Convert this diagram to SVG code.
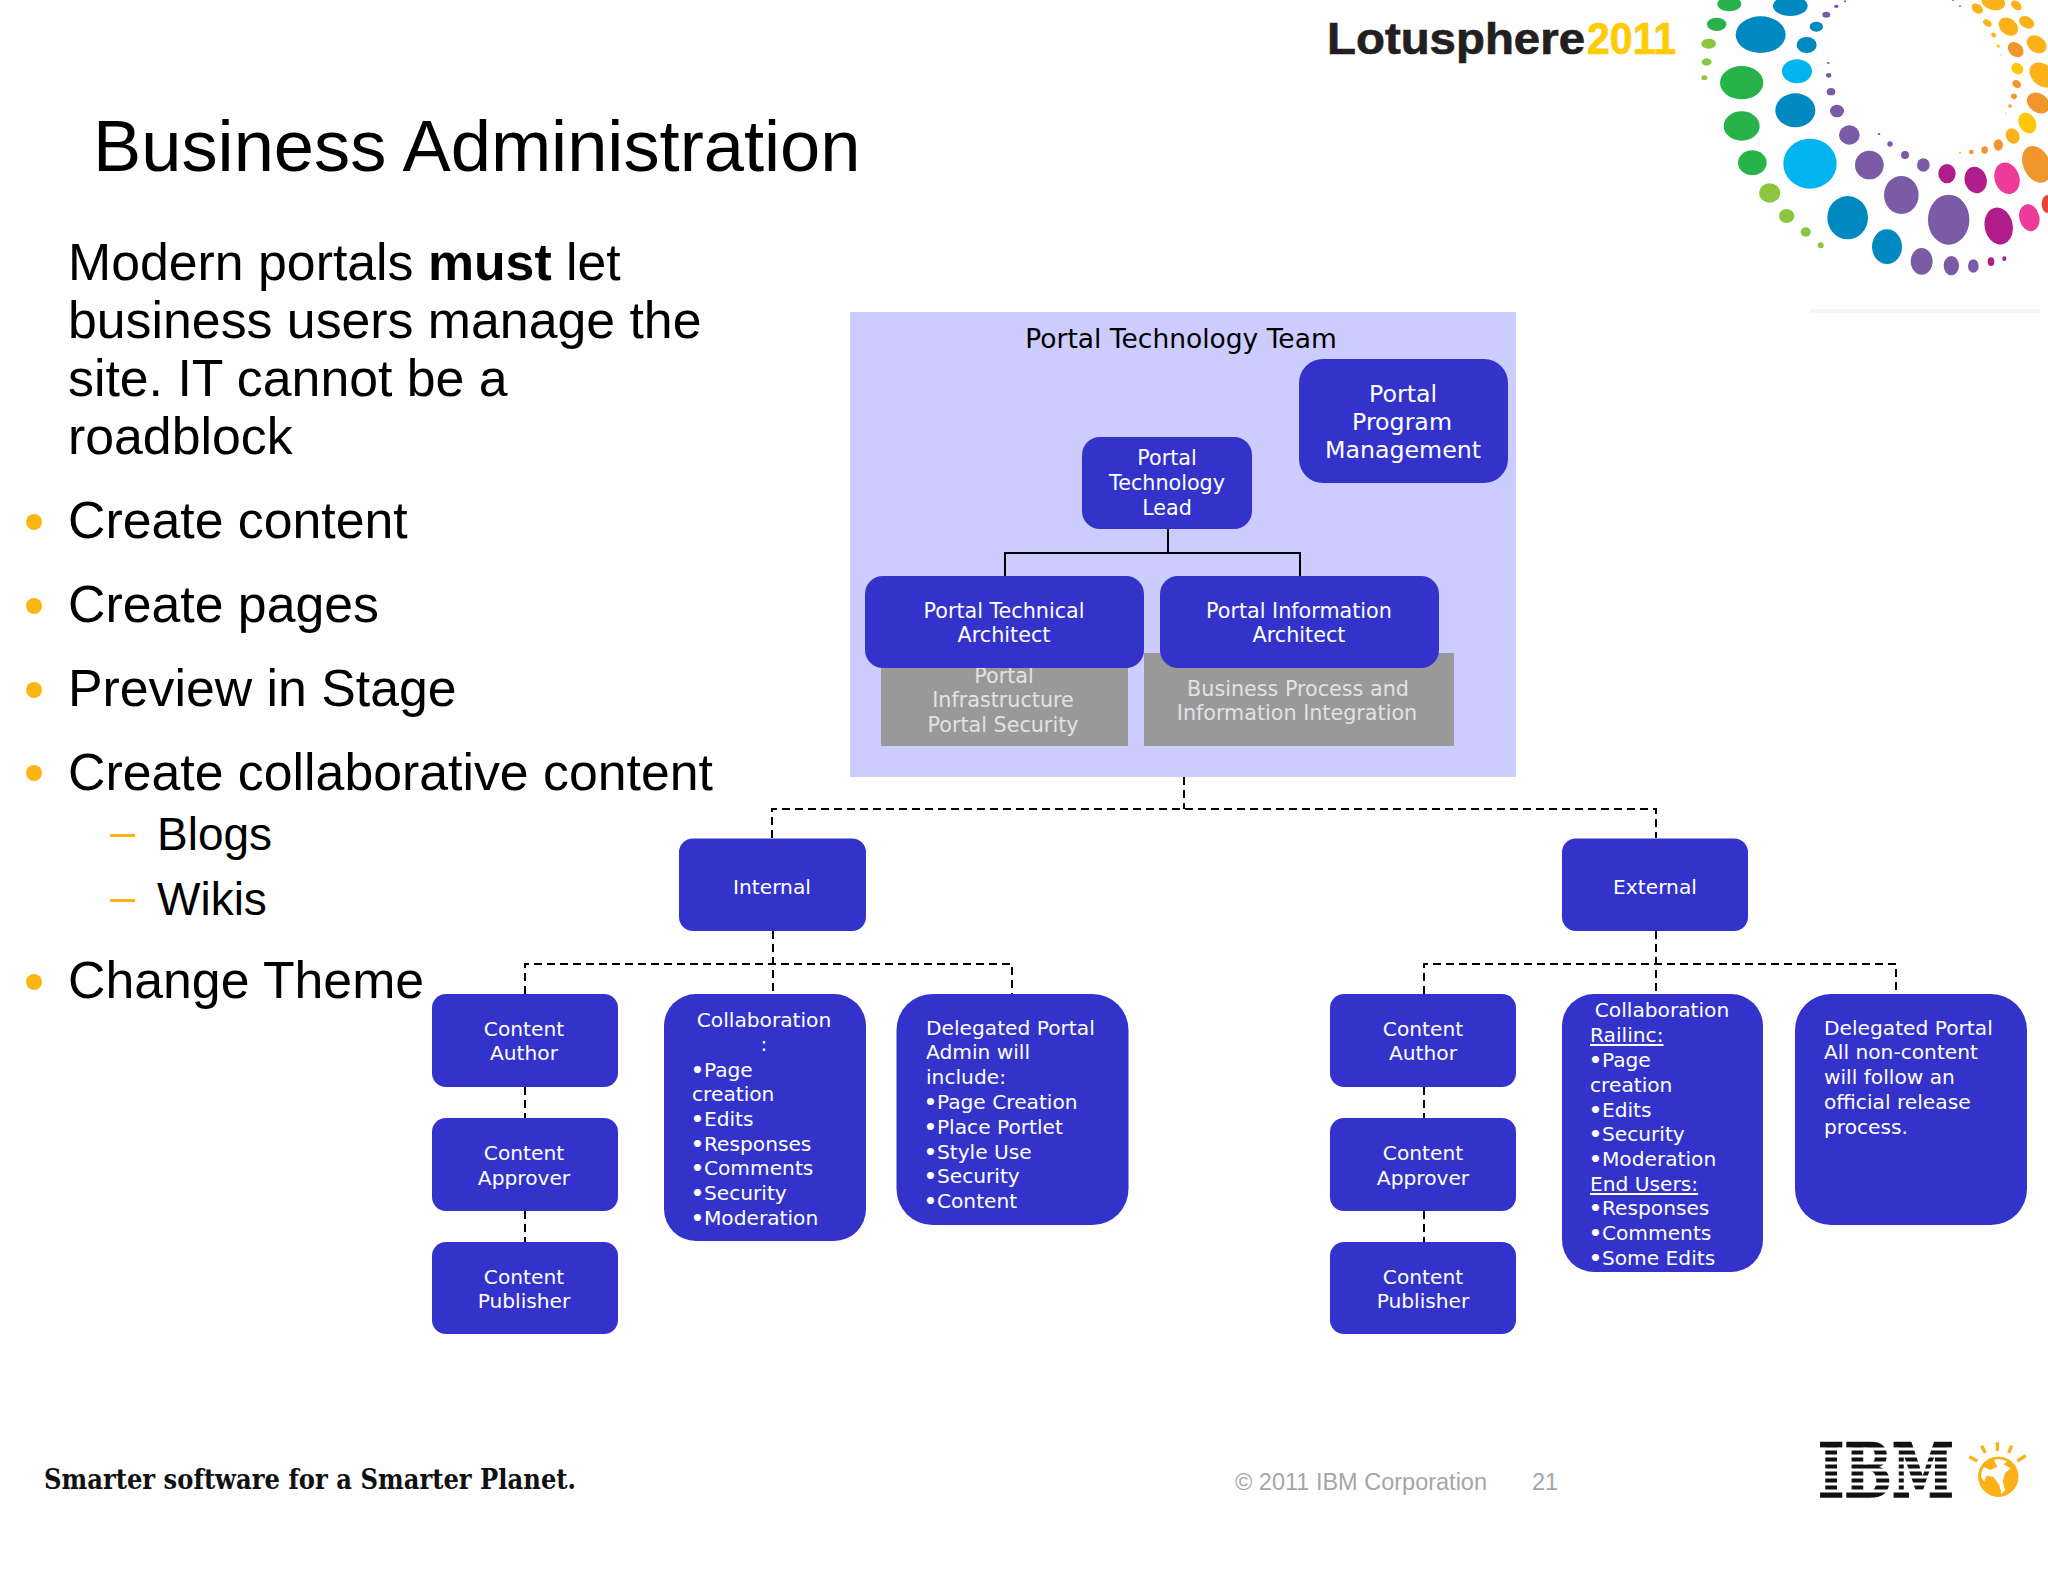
<svg xmlns="http://www.w3.org/2000/svg" width="2048" height="1582" viewBox="0 0 2048 1582">
<style>
text{font-family:"Liberation Sans",Arial,sans-serif}
.h{font-size:51.8px;fill:#000}
.s{font-size:46px;fill:#000}
.d text,text.d{font-family:"DejaVu Sans",Verdana,sans-serif;font-size:20.2px;fill:#fff}
.u text{font-size:20.7px}
.c{text-anchor:middle}
.b{font-weight:bold}
.box{fill:#3333cc}
.g text{font-family:"DejaVu Sans",Verdana,sans-serif;font-size:20.7px;fill:#e2e2e2;text-anchor:middle}
.dash{fill:none;stroke:#000;stroke-width:2;stroke-dasharray:8 5}
.solid{fill:none;stroke:#000;stroke-width:2}
.bu{fill:#fdb515}
.grn{fill:#27b24a}.lim{fill:#8cc63f}.blu{fill:#0089c0}.cya{fill:#00b4ef}.pur{fill:#7b5ba6}.mag{fill:#b01c8a}.pin{fill:#ee3a9b}.ora{fill:#f0962d}.yel{fill:#ffc60b}.gol{fill:#fbb117}.red{fill:#ef4136}
</style>
<rect width="2048" height="1582" fill="#fefefe"/>
<text x="93" y="171" font-size="72.3" fill="#000">Business Administration</text>
<g id="body-text">
<text class="h" x="68" y="280">Modern portals <tspan font-weight="bold">must</tspan> let</text>
<text class="h" x="68" y="338">business users manage the</text>
<text class="h" x="68" y="396">site. IT cannot be a</text>
<text class="h" x="68" y="454">roadblock</text>
<circle class="bu" cx="34" cy="522" r="8"/><text class="h" x="68" y="538">Create content</text>
<circle class="bu" cx="34" cy="606" r="8"/><text class="h" x="68" y="622">Create pages</text>
<circle class="bu" cx="34" cy="690" r="8"/><text class="h" x="68" y="706">Preview in Stage</text>
<circle class="bu" cx="34" cy="773" r="8"/><text class="h" x="68" y="790">Create collaborative content</text>
<rect class="bu" x="110" y="834" width="25" height="3"/><text class="s" x="157" y="850">Blogs</text>
<rect class="bu" x="110" y="899" width="25" height="3"/><text class="s" x="157" y="915">Wikis</text>
<circle class="bu" cx="34" cy="982" r="8"/><text class="h" x="68" y="998">Change Theme</text>
</g>
<g id="lotusphere-logo">
<text x="1327" y="54" font-size="45" font-weight="bold" fill="#231f20" stroke="#231f20" stroke-width=".7" textLength="258" lengthAdjust="spacingAndGlyphs">Lotusphere</text>
<text x="1587" y="54" font-size="45" font-weight="bold" fill="#ffcb05" stroke="#ffcb05" stroke-width=".7" textLength="89" lengthAdjust="spacingAndGlyphs">2011</text>
<g transform="translate(1650,0) scale(.33333)">
<ellipse class="grn" cx="238" cy="12" rx="36" ry="22"/><ellipse class="blu" cx="421" cy="18" rx="52" ry="30"/><ellipse class="pur" cx="559" cy="19" rx="7" ry="5"/><ellipse class="pur" cx="585" cy="4" rx="3" ry="3"/><ellipse class="pur" cx="529" cy="44" rx="12" ry="9"/>
<ellipse class="grn" cx="200" cy="73" rx="29" ry="20"/><ellipse class="blu" cx="332" cy="104" rx="75" ry="55"/><ellipse class="blu" cx="499" cy="80" rx="20" ry="15"/><ellipse class="blu" cx="470" cy="135" rx="30" ry="24"/><ellipse class="lim" cx="176" cy="131" rx="22" ry="15"/><ellipse class="lim" cx="170" cy="186" rx="15" ry="11"/><ellipse class="lim" cx="163" cy="233" rx="9" ry="7"/>
<ellipse class="cya" cx="441" cy="214" rx="45" ry="36"/><ellipse class="pur" cx="535" cy="189" rx="4" ry="3"/><ellipse class="pur" cx="536" cy="226" rx="8" ry="7"/><ellipse class="pur" cx="543" cy="275" rx="13" ry="11"/><ellipse class="pur" cx="561" cy="333" rx="21" ry="19"/>
<ellipse class="grn" cx="275" cy="248" rx="65" ry="50"/><ellipse class="blu" cx="436" cy="331" rx="60" ry="51"/><ellipse class="grn" cx="275" cy="378" rx="54" ry="44"/><ellipse class="pur" cx="598" cy="405" rx="31" ry="29"/><ellipse class="cya" cx="480" cy="491" rx="80" ry="75"/><ellipse class="grn" cx="307" cy="488" rx="43" ry="37"/><ellipse class="pur" cx="658" cy="495" rx="43" ry="43"/><ellipse class="pur" cx="687" cy="402" rx="4" ry="3"/><ellipse class="pur" cx="720" cy="432" rx="8" ry="8"/><ellipse class="pur" cx="765" cy="465" rx="12" ry="12"/><ellipse class="pur" cx="820" cy="495" rx="19" ry="20"/>
<ellipse class="lim" cx="359" cy="579" rx="32" ry="29"/><ellipse class="lim" cx="410" cy="648" rx="23" ry="21"/><ellipse class="lim" cx="467" cy="696" rx="15" ry="14"/><ellipse class="lim" cx="512" cy="736" rx="9" ry="9"/>
<ellipse class="blu" cx="593" cy="653" rx="61" ry="65"/><ellipse class="blu" cx="711" cy="740" rx="45" ry="52"/><ellipse class="pur" cx="754" cy="585" rx="52" ry="57"/><ellipse class="pur" cx="896" cy="659" rx="62" ry="75"/><ellipse class="pur" cx="815" cy="784" rx="33" ry="40"/><ellipse class="pur" cx="904" cy="797" rx="23" ry="29"/><ellipse class="pur" cx="970" cy="798" rx="16" ry="20"/><ellipse class="mag" cx="1023" cy="785" rx="10" ry="13"/><ellipse class="mag" cx="1063" cy="776" rx="6" ry="7"/>
<ellipse class="mag" cx="891" cy="521" rx="26" ry="29"/><ellipse class="mag" cx="977" cy="540" rx="33" ry="40" transform="rotate(-15 977 540)"/><ellipse class="pin" cx="1071" cy="535" rx="37" ry="48" transform="rotate(-18 1071 535)"/><ellipse class="mag" cx="1046" cy="678" rx="42" ry="56" transform="rotate(-12 1046 678)"/><ellipse class="pin" cx="1138" cy="653" rx="30" ry="41" transform="rotate(-14 1138 653)"/><ellipse class="red" cx="1192" cy="612" rx="17" ry="27"/>
<ellipse class="ora" cx="1160" cy="493" rx="40" ry="58" transform="rotate(-25 1160 493)"/><ellipse class="yel" cx="930" cy="458" rx="3" ry="3"/><ellipse class="ora" cx="964" cy="456" rx="7" ry="7"/><ellipse class="ora" cx="1004" cy="450" rx="10" ry="11"/><ellipse class="ora" cx="1045" cy="435" rx="14" ry="17"/><ellipse class="gol" cx="1088" cy="408" rx="20" ry="24" transform="rotate(-30 1088 408)"/><ellipse class="yel" cx="1132" cy="369" rx="25" ry="33" transform="rotate(-30 1132 369)"/><ellipse class="ora" cx="1165" cy="309" rx="37" ry="28" transform="rotate(35 1165 309)"/>
<ellipse class="gol" cx="1067" cy="340" rx="2" ry="2"/><ellipse class="ora" cx="1080" cy="318" rx="5" ry="5"/><ellipse class="ora" cx="1092" cy="289" rx="9" ry="8" transform="rotate(30 1092 289)"/><ellipse class="ora" cx="1100" cy="252" rx="14" ry="11" transform="rotate(35 1100 252)"/><ellipse class="yel" cx="1102" cy="206" rx="19" ry="16" transform="rotate(35 1102 206)"/><ellipse class="ora" cx="1097" cy="149" rx="26" ry="20" transform="rotate(40 1097 149)"/><ellipse class="gol" cx="1075" cy="80" rx="32" ry="24" transform="rotate(40 1075 80)"/><ellipse class="gol" cx="1160" cy="133" rx="32" ry="24" transform="rotate(35 1160 133)"/><ellipse class="gol" cx="1178" cy="225" rx="44" ry="32" transform="rotate(40 1178 225)"/><ellipse class="gol" cx="1130" cy="67" rx="24" ry="17" transform="rotate(30 1130 67)"/><ellipse class="gol" cx="1099" cy="16" rx="18" ry="12" transform="rotate(40 1099 16)"/><ellipse class="gol" cx="1030" cy="6" rx="36" ry="24" transform="rotate(15 1030 6)"/><ellipse class="gol" cx="982" cy="26" rx="19" ry="13" transform="rotate(35 982 26)"/><ellipse class="gol" cx="1012" cy="69" rx="14" ry="9" transform="rotate(35 1012 69)"/><ellipse class="gol" cx="1031" cy="105" rx="8" ry="6" transform="rotate(35 1031 105)"/><ellipse class="yel" cx="1045" cy="138" rx="6" ry="4" transform="rotate(30 1045 138)"/><ellipse class="yel" cx="1052" cy="164" rx="2" ry="2"/><ellipse class="pin" cx="930" cy="18" rx="3" ry="3"/><ellipse class="red" cx="909" cy="1" rx="3" ry="2"/>
</g>
<rect x="1810" y="309" width="230" height="4" fill="#f6f6f6"/>
</g>
<rect id="panel" x="850" y="312" width="666" height="465" fill="#ccccff"/>
<text id="panel-title" class="d c" x="1181" y="348" style="font-size:26.5px;fill:#000">Portal Technology Team</text>
<g id="connectors">
<path class="solid" d="M1168 529V553M1005 576V553H1300V576"/>
<path class="dash" d="M1184 777V809M772 838V809H1656V838"/>
<path class="dash" d="M773 931V994M525 994V964H1012V994M525 1087V1118M525 1211V1242"/>
<path class="dash" d="M1656 931V994M1424 994V964H1896V994M1424 1087V1118M1424 1211V1242"/>
</g>
<g id="grey-infrastructure" class="g"><rect x="881" y="653" width="247" height="93" fill="#999"/>
<text x="1004" y="683">Portal</text><text x="1003" y="707">Infrastructure</text><text x="1003" y="732">Portal Security</text></g>
<g id="grey-business" class="g"><rect x="1144" y="653" width="310" height="93" fill="#999"/>
<text x="1298" y="696">Business Process and</text><text x="1297" y="720">Information Integration</text></g>
<g id="program-management" class="d"><rect class="box" x="1299" y="359" width="209" height="124" rx="24"/>
<text class="c" style="font-size:23.7px" x="1403" y="402">Portal</text><text class="c" style="font-size:23.7px" x="1402" y="430">Program</text><text class="c" style="font-size:23.7px" x="1403" y="458">Management</text></g>
<g id="tech-lead" class="d u"><rect class="box" x="1082" y="437" width="170" height="92" rx="18"/>
<text class="c" x="1167" y="465">Portal</text><text class="c" x="1167" y="490">Technology</text><text class="c" x="1167" y="515">Lead</text></g>
<g id="tech-architect" class="d u"><rect class="box" x="865" y="576" width="279" height="92" rx="18"/>
<text class="c" x="1004" y="618">Portal Technical</text><text class="c" x="1004" y="642">Architect</text></g>
<g id="info-architect" class="d u"><rect class="box" x="1160" y="576" width="279" height="92" rx="18"/>
<text class="c" x="1299" y="618">Portal Information</text><text class="c" x="1299" y="642">Architect</text></g>
<g id="internal" class="d"><rect class="box" x="679" y="838.5" width="187" height="92.5" rx="14"/><text class="c" x="772" y="893.5">Internal</text></g>
<g id="external" class="d"><rect class="box" x="1562" y="838.5" width="186" height="92.5" rx="14"/><text class="c" x="1655" y="893.5">External</text></g>
<g id="int-author" class="d"><rect class="box" x="432" y="994" width="186" height="93" rx="14"/><text class="c" x="524" y="1036">Content</text><text class="c" x="524" y="1060">Author</text></g>
<g id="int-approver" class="d"><rect class="box" x="432" y="1118" width="186" height="93" rx="14"/><text class="c" x="524" y="1160">Content</text><text class="c" x="524" y="1184.500">Approver</text></g>
<g id="int-publisher" class="d"><rect class="box" x="432" y="1242" width="186" height="92" rx="14"/><text class="c" x="524" y="1284">Content</text><text class="c" x="524" y="1308">Publisher</text></g>
<g id="int-collaboration" class="d"><rect class="box" x="664" y="994" width="202" height="247" rx="32"/>
<text class="c" x="764" y="1026.500">Collaboration</text><text class="c" x="764" y="1050.500">:</text>
<text x="691" y="1076.500"><tspan class="b">•</tspan>Page</text><text x="692" y="1101">creation</text><text x="691" y="1125.500"><tspan class="b">•</tspan>Edits</text><text x="691" y="1151"><tspan class="b">•</tspan>Responses</text><text x="691" y="1175"><tspan class="b">•</tspan>Comments</text><text x="691" y="1200"><tspan class="b">•</tspan>Security</text><text x="691" y="1224.500"><tspan class="b">•</tspan>Moderation</text></g>
<g id="int-delegated" class="d"><rect class="box" x="896.500" y="994" width="232" height="231" rx="36"/>
<text x="926" y="1034.500">Delegated Portal</text><text x="926" y="1059">Admin will</text><text x="926" y="1084">include:</text><text x="924" y="1108.500"><tspan class="b">•</tspan>Page Creation</text><text x="924" y="1133.500"><tspan class="b">•</tspan>Place Portlet</text><text x="924" y="1158.500"><tspan class="b">•</tspan>Style Use</text><text x="924" y="1183"><tspan class="b">•</tspan>Security</text><text x="924" y="1207.500"><tspan class="b">•</tspan>Content</text></g>
<g id="ext-author" class="d"><rect class="box" x="1330" y="994" width="186" height="93" rx="14"/><text class="c" x="1423" y="1036">Content</text><text class="c" x="1423" y="1060">Author</text></g>
<g id="ext-approver" class="d"><rect class="box" x="1330" y="1118" width="186" height="93" rx="14"/><text class="c" x="1423" y="1160">Content</text><text class="c" x="1423" y="1184.500">Approver</text></g>
<g id="ext-publisher" class="d"><rect class="box" x="1330" y="1242" width="186" height="92" rx="14"/><text class="c" x="1423" y="1284">Content</text><text class="c" x="1423" y="1308">Publisher</text></g>
<g id="ext-collaboration" class="d"><rect class="box" x="1562" y="994" width="201" height="278" rx="32"/>
<text class="c" x="1662" y="1017">Collaboration</text><text x="1590" y="1042" text-decoration="underline">Railinc:</text>
<text x="1589" y="1066.500"><tspan class="b">•</tspan>Page</text><text x="1590" y="1092">creation</text><text x="1589" y="1116.500"><tspan class="b">•</tspan>Edits</text><text x="1589" y="1141"><tspan class="b">•</tspan>Security</text><text x="1589" y="1165.500"><tspan class="b">•</tspan>Moderation</text><text x="1590" y="1191" text-decoration="underline">End Users:</text><text x="1589" y="1215"><tspan class="b">•</tspan>Responses</text><text x="1589" y="1240"><tspan class="b">•</tspan>Comments</text><text x="1589" y="1265"><tspan class="b">•</tspan>Some Edits</text></g>
<g id="ext-delegated" class="d"><rect class="box" x="1795" y="994" width="232" height="231" rx="36"/>
<text x="1824" y="1034.500">Delegated Portal</text><text x="1824" y="1059">All non-content</text><text x="1824" y="1084">will follow an</text><text x="1824" y="1108.500">official release</text><text x="1824" y="1133.500">process.</text></g>
<g id="footer">
<text x="44" y="1489" font-size="27" font-weight="bold" style="font-family:'DejaVu Serif',serif" fill="#111" textLength="532" lengthAdjust="spacingAndGlyphs">Smarter software for a Smarter Planet.</text>
<text x="1235" y="1490" font-size="23.5" fill="#a6a6a6">© 2011 IBM Corporation</text>
<text x="1532" y="1490" font-size="23.5" fill="#a6a6a6">21</text>
</g>
<g id="ibm-logo">
<text x="1818" y="1497" font-size="74" font-weight="bold" style="font-family:'DejaVu Serif',serif" fill="#111" stroke="#111" stroke-width="1.5" textLength="136" lengthAdjust="spacingAndGlyphs">IBM</text>
<g fill="#fefefe"><rect x="1810" y="1447.500" width="150" height="3"/><rect x="1810" y="1454.500" width="150" height="3"/><rect x="1810" y="1461.500" width="150" height="3"/><rect x="1810" y="1468.500" width="150" height="3"/><rect x="1810" y="1475.500" width="150" height="3"/><rect x="1810" y="1482.500" width="150" height="3"/><rect x="1810" y="1489.500" width="150" height="3"/></g>
<g transform="translate(1960,1435) scale(.33333)">
<circle cx="115" cy="125" r="60" fill="#fbb117"/>
<path d="M100 72C115 65 130 70 142 80L130 88 152 100 135 115 128 140 136 165 125 178 118 150 100 125 80 122 72 140 60 120 70 95 90 105 112 95Z" fill="#fefefe"/>
<circle cx="115" cy="125" r="56" fill="none" stroke="#fbb117" stroke-width="8"/>
<path d="M112 22V48M65 32L76 54M155 32L146 54M28 65L52 78M197 62L172 78" stroke="#fbb117" stroke-width="10" fill="none"/>
</g>
</g>
</svg>
